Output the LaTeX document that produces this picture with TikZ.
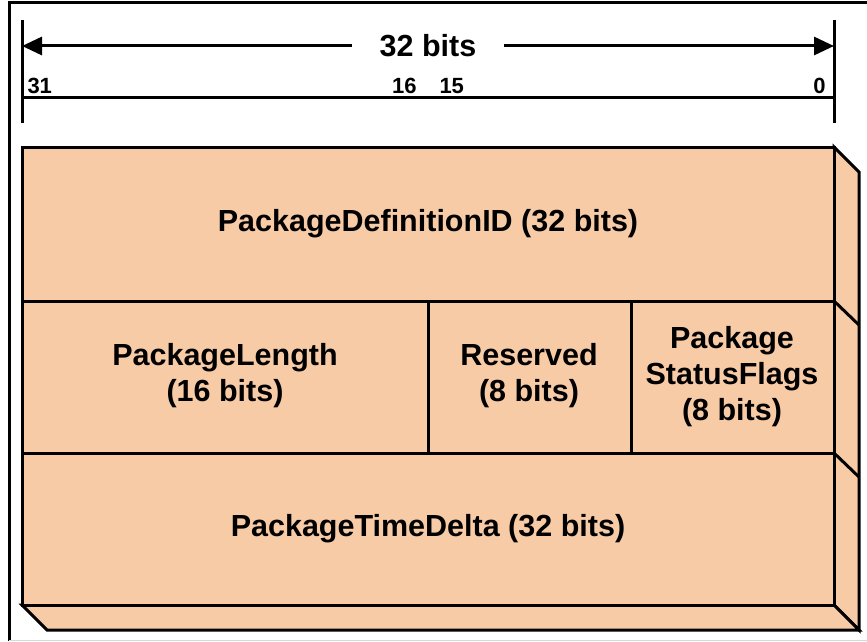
\documentclass[tikz,border=0pt]{standalone}
\usepackage{fontspec}
\setmainfont{Liberation Sans}
\usetikzlibrary{arrows.meta}
\definecolor{peach}{RGB}{248,203,167}
\begin{document}
\begin{tikzpicture}[x=1pt,y=-1pt,line width=3pt,
  field/.style={font=\bfseries\fontsize{30.5}{36}\selectfont,align=center,inner sep=0pt},
  bitnum/.style={font=\bfseries\fontsize{22}{24}\selectfont,inner sep=0pt},
  dimarrow/.style={-{Triangle[length=20pt,width=18pt]}},
  boxline/.style={draw=black,line width=3pt,fill=peach}]
\useasboundingbox (0,0) rectangle (867,642);
% outer frame
\draw[line width=3pt] (9,641) -- (9,3) -- (867,3);
\draw[line width=1.5pt,black!15] (9,640.5) -- (867,640.5);
% dimension ticks and baseline
\draw (22,20) -- (22,123);
\draw (834,20) -- (834,123);
\draw (22,97) -- (834,97);
\coordinate (L) at (22,46);
\coordinate (R) at (834,46);
\node[font=\bfseries\fontsize{30.5}{34}\selectfont,fill=white,inner xsep=26pt,inner ysep=4pt] (title) at (428,46) {32 bits};
\draw[dimarrow] (title) -- (L);
\draw[dimarrow] (title) -- (R);
\node[bitnum,anchor=base west] (b31) at (26,93) {31};
\node[bitnum,anchor=base east] (b16) at (418,93) {16};
\node[bitnum,anchor=base west] (b15) at (438,93) {15};
\node[bitnum,anchor=base east] (b0) at (827,93) {0};
% 3D box
\draw[boxline] (834,147) -- (859,172) -- (859,630) -- (834,605) -- cycle;
\draw[boxline] (22,605) -- (47,630) -- (859,630) -- (834,605) -- cycle;
\draw[boxline] (22,147) rectangle (834,605);
\draw (834,301) -- (859,325);
\draw (834,453) -- (859,477);
\draw (22,301) -- (834,301);
\draw (22,453) -- (834,453);
\draw (428,301) -- (428,453);
\draw (631,301) -- (631,453);
% field labels
\node[field] (defid) at (428,224) {PackageDefinitionID (32 bits)};
\node[field] (len) at (225,376) {PackageLength\\(16 bits)};
\node[field] (res) at (529,376) {Reserved\\(8 bits)};
\node[field] (flags) at (732,377) {Package\\StatusFlags\\(8 bits)};
\node[field] (delta) at (428,529) {PackageTimeDelta (32 bits)};
\end{tikzpicture}
\end{document}
